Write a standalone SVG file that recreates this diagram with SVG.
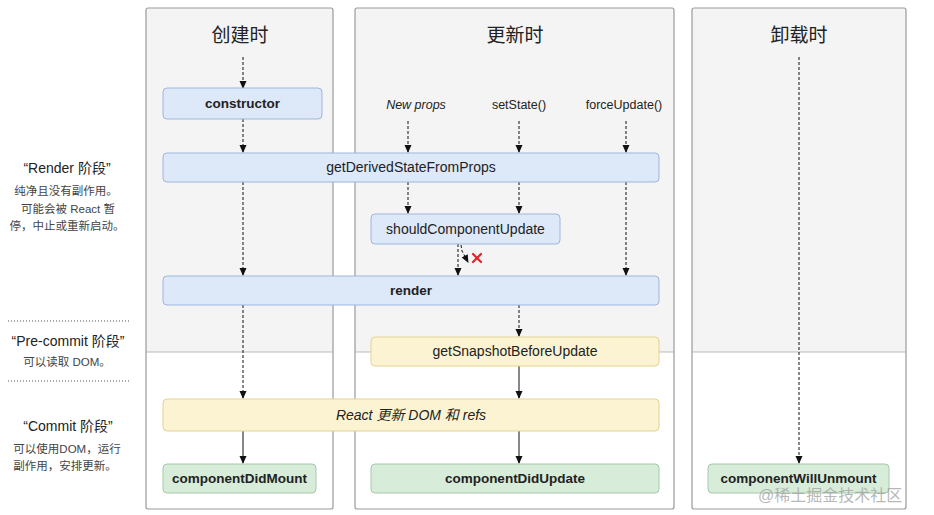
<svg xmlns="http://www.w3.org/2000/svg" width="934" height="515" viewBox="0 0 934 515">
<defs>
<marker id="ah" viewBox="0 0 8 8" refX="7" refY="4" markerWidth="8" markerHeight="8" markerUnits="userSpaceOnUse" orient="auto">
<path d="M0,0.5 L8,4 L0,7.5 Z" fill="#111"/>
</marker>
</defs>
<style>
text{font-family:"Liberation Sans","Noto Sans CJK SC",sans-serif;fill:#222}
.hd{font-size:19px;text-anchor:middle}
.nl{font-size:14px;text-anchor:middle}
.b{font-weight:bold;font-size:13.5px}
.blue{fill:#dde8f9;stroke:#9fb6dc;stroke-width:1}
.yel{fill:#fcf3d2;stroke:#e2d394;stroke-width:1}
.grn{fill:#d7ecd9;stroke:#a5c9a8;stroke-width:1}
.col{fill:none;stroke:#9a9a9a;stroke-width:1.2}
.d{stroke:#111;stroke-width:1;stroke-dasharray:3,2;fill:none}
.s{stroke:#111;stroke-width:1;fill:none}
.lt{font-size:14px;text-anchor:middle}
.ls{font-size:11.5px;text-anchor:middle;fill:#444}
.sm{font-size:12.5px;text-anchor:middle}
.sep{stroke:#555;stroke-width:1;stroke-dasharray:1,2}
</style>
<rect width="934" height="515" fill="#ffffff"/>
<g id="columns">
<rect x="146" y="8" width="187" height="344" fill="#f4f4f4"/>
<rect x="355" y="8" width="319" height="344" fill="#f4f4f4"/>
<rect x="692" y="8" width="214" height="344" fill="#f4f4f4"/>
<line x1="146" y1="352" x2="333" y2="352" stroke="#bbb"/>
<line x1="355" y1="352" x2="674" y2="352" stroke="#bbb"/>
<line x1="692" y1="352" x2="906" y2="352" stroke="#bbb"/>
<rect class="col" x="146" y="8" width="187" height="501" rx="2"/>
<rect class="col" x="355" y="8" width="319" height="501" rx="2"/>
<rect class="col" x="692" y="8" width="214" height="501" rx="2"/>
<text class="hd" x="240" y="42">创建时</text>
<text class="hd" x="515" y="42">更新时</text>
<text class="hd" x="799" y="42">卸载时</text>
</g>
<g id="left-labels">
<text class="lt" x="67" y="173">“Render 阶段”</text>
<text class="ls" x="66" y="195">纯净且没有副作用。</text>
<text class="ls" x="68" y="213">可能会被 React 暂</text>
<text class="ls" x="67" y="230">停，中止或重新启动。</text>
<line class="sep" x1="8" y1="321" x2="130" y2="321"/>
<text class="lt" x="68" y="346">“Pre-commit 阶段”</text>
<text class="ls" x="67" y="366">可以读取 DOM。</text>
<line class="sep" x1="8" y1="381" x2="130" y2="381"/>
<text class="lt" x="68" y="431">“Commit 阶段”</text>
<text class="ls" x="67" y="453">可以使用DOM，运行</text>
<text class="ls" x="65" y="470">副作用，安排更新。</text>
</g>
<g id="triggers">
<text class="sm" x="416" y="109" font-style="italic">New props</text>
<text class="sm" x="519" y="109">setState()</text>
<text class="sm" x="624" y="109">forceUpdate()</text>
</g>
<g id="connectors">
<line class="d" x1="243" y1="57" x2="243" y2="88" marker-end="url(#ah)"/>
<line class="d" x1="243" y1="119" x2="243" y2="152" marker-end="url(#ah)"/>
<line class="d" x1="243" y1="182" x2="243" y2="275" marker-end="url(#ah)"/>
<line class="d" x1="243" y1="305" x2="243" y2="398" marker-end="url(#ah)"/>
<line class="s" x1="243" y1="431" x2="243" y2="463" marker-end="url(#ah)"/>
<line class="d" x1="408" y1="121" x2="408" y2="152" marker-end="url(#ah)"/>
<line class="d" x1="519" y1="121" x2="519" y2="152" marker-end="url(#ah)"/>
<line class="d" x1="626" y1="121" x2="626" y2="152" marker-end="url(#ah)"/>
<line class="d" x1="408" y1="182" x2="408" y2="213" marker-end="url(#ah)"/>
<line class="d" x1="519" y1="182" x2="519" y2="213" marker-end="url(#ah)"/>
<line class="d" x1="626" y1="182" x2="626" y2="275" marker-end="url(#ah)"/>
<line class="d" x1="458" y1="244" x2="458" y2="275" marker-end="url(#ah)"/>
<polyline class="d" points="461,245 462,251 468,262" marker-end="url(#ah)"/>
<g stroke="#e0262b" stroke-width="2.2" stroke-linecap="round">
<line x1="473" y1="254" x2="481" y2="262"/>
<line x1="481" y1="254" x2="473" y2="262"/>
</g>
<line class="d" x1="519" y1="305" x2="519" y2="336" marker-end="url(#ah)"/>
<line class="s" x1="519" y1="366" x2="519" y2="398" marker-end="url(#ah)"/>
<line class="s" x1="519" y1="431" x2="519" y2="463" marker-end="url(#ah)"/>
<line class="d" x1="799" y1="57" x2="799" y2="463" marker-end="url(#ah)"/>
</g>
<g id="constructor">
<rect class="blue" x="163" y="88" width="159" height="31" rx="4"/>
<text class="nl b" x="242.5" y="108">constructor</text>
</g>
<g id="getDerivedStateFromProps">
<rect class="blue" x="163" y="153" width="496" height="29" rx="4"/>
<text class="nl" x="411" y="172">getDerivedStateFromProps</text>
</g>
<g id="shouldComponentUpdate">
<rect class="blue" x="371" y="214" width="189" height="30" rx="4"/>
<text class="nl" x="465.5" y="234">shouldComponentUpdate</text>
</g>
<g id="render">
<rect class="blue" x="163" y="276" width="496" height="29" rx="4"/>
<text class="nl b" x="411" y="295">render</text>
</g>
<g id="getSnapshotBeforeUpdate">
<rect class="yel" x="371" y="337" width="288" height="29" rx="4"/>
<text class="nl" x="515" y="356">getSnapshotBeforeUpdate</text>
</g>
<g id="reactUpdateDom">
<rect class="yel" x="163" y="399" width="496" height="32" rx="4"/>
<text class="nl" x="411" y="420" font-style="italic">React 更新 DOM 和 refs</text>
</g>
<g id="componentDidMount">
<rect class="grn" x="163" y="464" width="153" height="29" rx="4"/>
<text class="nl b" x="239.5" y="483">componentDidMount</text>
</g>
<g id="componentDidUpdate">
<rect class="grn" x="371" y="464" width="288" height="29" rx="4"/>
<text class="nl b" x="515" y="483">componentDidUpdate</text>
</g>
<g id="componentWillUnmount">
<rect class="grn" x="708" y="464" width="181" height="29" rx="4"/>
<text class="nl b" x="798.5" y="483">componentWillUnmount</text>
</g>
<text x="758" y="501" font-size="16" style="fill:#a0a0a0;fill-opacity:0.75">@稀土掘金技术社区</text>
</svg>
